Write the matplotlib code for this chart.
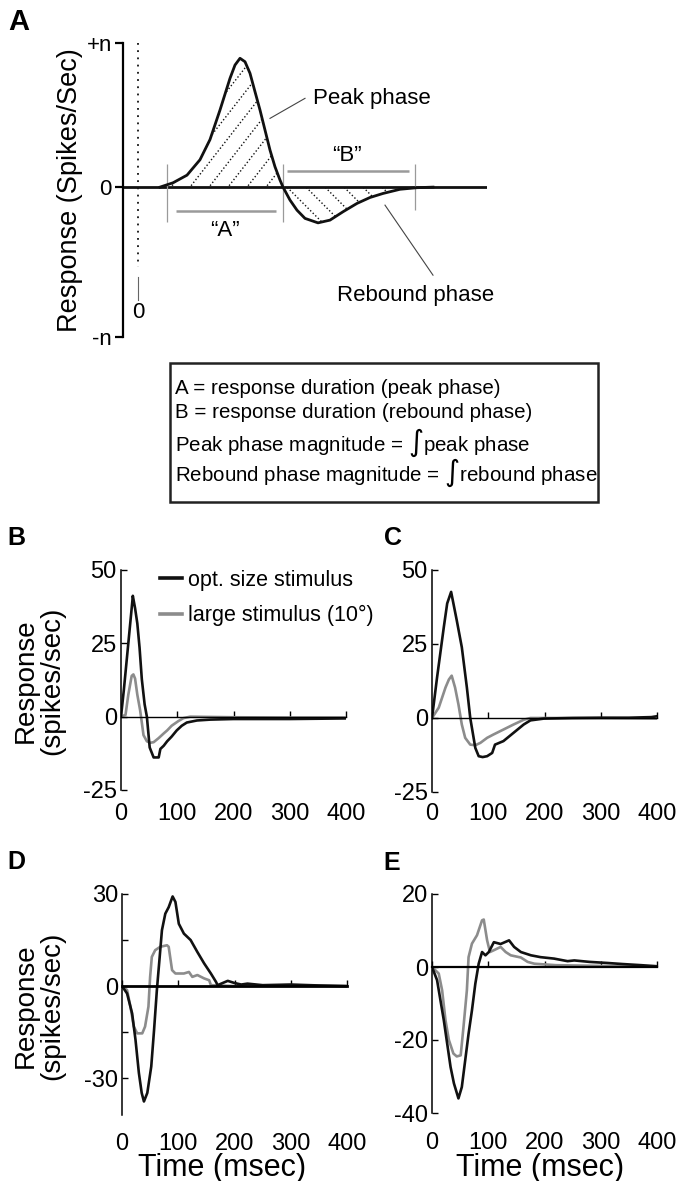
import numpy as np
import matplotlib
matplotlib.use('Agg')
import matplotlib.pyplot as plt
from matplotlib.patches import Rectangle

plt.rcParams['font.family'] = ['Liberation Sans', 'DejaVu Sans']

# ---- Panel A: schematic response (time relative to stimulus onset, normalised response)
a_t = [22, 35, 49, 62, 72, 82, 92, 97, 102, 107, 112, 117, 122, 127, 132, 137, 142, 145,
       152, 159, 167, 180, 192, 205, 219, 232, 245, 262, 279, 295]
a_v = [0, 0.03, 0.083, 0.19, 0.33, 0.535, 0.755, 0.847, 0.894, 0.87, 0.79, 0.662, 0.535,
       0.396, 0.257, 0.141, 0.049, 0, -0.09, -0.16, -0.217, -0.248, -0.229, -0.171, -0.113,
       -0.072, -0.044, -0.015, -0.004, 0]
a_ticklabels = ['-n', '0', '+n']

box_lines = ['A = response duration (peak phase)',
             'B = response duration (rebound phase)',
             r'Peak phase magnitude = $\int$peak phase',
             r'Rebound phase magnitude = $\int$rebound phase']

# ---- Panels B-E: mean responses (spikes/sec) vs time (msec)
b_blk_t = [0, 5, 10, 15, 20, 21, 25, 29, 33, 37, 42, 46, 51, 58, 67, 70, 76, 82, 90, 99, 108,
           117, 135, 159, 200, 300, 400]
b_blk_v = [0, 9, 19, 29, 39, 41.2, 37, 31.8, 23.5, 12.8, 4.2, 0, -10.5, -13.9, -13.9, -11.0,
           -9.9, -8.4, -6.8, -4.7, -3.1, -2.0, -1.3, -1.0, -0.8, -0.8, -0.6]
b_gry_t = [0, 8, 13, 19, 22, 25, 29, 34, 37, 40, 46, 52, 58, 67, 76, 82, 90, 102, 111, 123,
           200, 300, 400]
b_gry_v = [0, 0.6, 7.5, 13.9, 14.4, 13, 7.5, 2.2, -2, -6.3, -8.4, -8.9, -8.7, -7.3, -5.7,
           -4.7, -3.1, -1.5, -0.5, 0, -0.2, -0.3, -0.3]

c_blk_t = [0, 9, 21, 27, 34, 44, 53, 62, 68, 77, 83, 90, 98, 107, 112, 127, 145, 163, 175,
           199, 250, 300, 350, 390, 400]
c_blk_v = [0, 13.7, 30.7, 38.7, 42.6, 33, 23.9, 10.3, 0, -10.1, -12.9, -13.2, -12.9, -11.8,
           -9, -7.8, -5, -2.2, -0.8, -0.2, 0, 0.1, 0.1, 0.3, 0.6]
c_gry_t = [0, 12, 24, 30, 35, 41, 47, 53, 59, 68, 77, 86, 98, 109, 127, 145, 163, 175, 250,
           400]
c_gry_v = [0, 3.5, 10.3, 13, 14.3, 10.3, 4.6, -2.2, -6.7, -9, -9.2, -8.4, -6.7, -5.6, -3.9,
           -2.2, -0.6, 0, 0, -0.2]

d_blk_t = [0, 9, 18, 24, 30, 35, 39, 45, 52, 57, 62, 67, 71, 77, 83, 90, 95, 101, 110, 122,
           134, 146, 158, 167, 170, 188, 200, 212, 223, 250, 300, 350, 400]
d_blk_v = [0, -2.4, -8.9, -17.5, -28.3, -34.8, -37.6, -34.8, -26.2, -14.3, -1.3, 9.5, 18.2,
           23.6, 25.7, 29.2, 27.4, 20.3, 17.1, 15, 11.1, 7.4, 4.1, 1.4, 0.3, 1.7, 1.0, 0.5, 0.8,
           0.3, 0.5, 0.2, 0]
d_gry_t = [0, 9, 15, 21, 27, 36, 41, 47, 50, 53, 59, 68, 80, 83, 89, 95, 110, 119, 125, 134,
           146, 155, 158, 200, 300, 400]
d_gry_v = [0, -1.3, -6.7, -13.2, -15.4, -15.4, -13.2, -6.7, 3, 9.5, 11.7, 12.8, 13.3, 12.8,
           5.2, 4.1, 4.1, 4.6, 3, 3.6, 2.5, 1.9, 0.3, 0, 0.3, 0]

e_blk_t = [0, 9, 15, 21, 27, 33, 39, 47, 53, 59, 65, 71, 77, 83, 89, 95, 101, 110, 122, 137,
           146, 158, 176, 193, 217, 241, 253, 280, 312, 340, 372, 400]
e_blk_v = [0, -3.6, -9.1, -14.6, -21, -27.4, -31.9, -36, -32.9, -25.6, -18.3, -11.9, -4.6,
           0.9, 4.1, 3.2, 4.1, 6.8, 6.3, 7.3, 5.5, 4.1, 3.2, 2.7, 2.3, 1.6, 1.8, 1.4, 1.1, 0.8,
           0.5, 0.2]
e_gry_t = [0, 12, 18, 24, 30, 38, 44, 51, 56, 62, 65, 71, 80, 89, 92, 98, 103, 110, 122, 131,
           140, 158, 170, 182, 220, 300, 400]
e_gry_v = [0, -1.8, -6.4, -14.6, -20, -23.7, -24.5, -24.2, -16.4, -6.4, 2.7, 6.4, 8.7, 12.8,
           13, 7.3, 4.1, 4.6, 5.5, 4.1, 3.2, 2.6, 1.4, 0.9, 0.5, 0.3, 0.2]

time_ticks = [0, 100, 200, 300, 400]
series_labels = ['opt. size stimulus', 'large stimulus (10\u00b0)']

BLACK = '#111111'
GRAY = '#8c8c8c'
W, H = 680, 1181

fig = plt.figure(figsize=(W / 100, H / 100), dpi=100)
fig.patch.set_facecolor('white')


def px_rect(left, top, right, bottom):
    return [left / W, 1 - bottom / H, (right - left) / W, (bottom - top) / H]


def fx(x):
    return x / W


def fy(y):
    return 1 - y / H


# ---------------- Panel A ----------------
ax = fig.add_axes(px_rect(123, 43, 487, 337))
ax.set_xlim(-15, 349)
ax.set_ylim(-1.04, 1)
for s in ['top', 'right', 'bottom']:
    ax.spines[s].set_visible(False)
ax.spines['left'].set_linewidth(1.6)
ax.set_xticks([])
ax.set_yticks([-1.04, 0, 1], a_ticklabels)
ax.tick_params(axis='y', direction='out', length=6, width=1.6, labelsize=16, pad=2)

ax.axhline(0, color=BLACK, lw=2.0)
ax.plot(a_t, a_v, color=BLACK, lw=2.0, zorder=4)

# dotted hatching clipped to the two phases
a_t_arr = np.array(a_t)
a_v_arr = np.array(a_v)
pk = a_t_arr <= 145
rb = a_t_arr >= 145
peak_fill = ax.fill_between(a_t_arr[pk], a_v_arr[pk], 0, facecolor='none', edgecolor='none')
reb_fill = ax.fill_between(a_t_arr[rb], a_v_arr[rb], 0, facecolor='none', edgecolor='none')
slope_pk = np.tan(np.radians(52)) / 144.0
for c in np.arange(52 - 19 * 6, 150, 19):
    ln, = ax.plot([c - 10, c + 120], [-10 * slope_pk, 120 * slope_pk], ls=(0, (1, 1.6)),
                  color=BLACK, lw=1.0)
    ln.set_clip_path(peak_fill.get_paths()[0], ax.transData)
slope_rb = 1 / 144.0
for c in np.arange(149, 300, 19):
    ln, = ax.plot([c - 10, c + 120], [10 * slope_rb, -120 * slope_rb], ls=(0, (1, 1.6)),
                  color=BLACK, lw=1.0)
    ln.set_clip_path(reb_fill.get_paths()[0], ax.transData)

# stimulus onset marker
ax.plot([0, 0], [1, -0.555], ls=(0, (1, 3)), color=BLACK, lw=1.3)
ax.plot([0, 0], [-0.625, -0.785], color='#666666', lw=0.8)
ax.text(0, -0.87, '0', ha='center', va='center', fontsize=16)

# duration markers
ax.vlines([29, 145], -0.243, 0.16, color='#9a9a9a', lw=0.9)
ax.vlines([277], -0.16, 0.16, color='#9a9a9a', lw=0.9)
ax.hlines(-0.165, 38, 138, color='#9a9a9a', lw=1.8)
ax.hlines(0.113, 149, 271, color='#9a9a9a', lw=1.8)
ax.text(87, -0.30, '\u201cA\u201d', ha='center', va='center', fontsize=16)
ax.text(209, 0.222, '\u201cB\u201d', ha='center', va='center', fontsize=16)

ax.plot([132, 167], [0.477, 0.616], color='#444444', lw=0.8)
ax.text(175, 0.616, 'Peak phase', ha='left', va='center', fontsize=16)
ax.plot([247, 295], [-0.125, -0.611], color='#444444', lw=0.8)
ax.text(199, -0.75, 'Rebound phase', ha='left', va='center', fontsize=16)

fig.text(fx(70), fy(190), 'Response (Spikes/Sec)', rotation=90, ha='center', va='center',
         fontsize=19.5)

# definitions box
fig.add_artist(Rectangle((fx(170), fy(502)), 428 / W, 139 / H, transform=fig.transFigure,
                         facecolor='white', edgecolor='#222222', lw=1.8))
for txt, yc in zip(box_lines, [389, 412, 443, 473]):
    fig.text(fx(175), fy(yc), txt, ha='left', va='center', fontsize=14.8)


# ---------------- Panels B-E ----------------
def panel(rect, blk_t, blk_v, gry_t, gry_v, ylim, yticks, ylabels, zero_lw, xpad):
    ax = fig.add_axes(rect)
    gl, = ax.plot(gry_t, gry_v, color=GRAY, lw=1.9)
    bl, = ax.plot(blk_t, blk_v, color=BLACK, lw=1.9)
    ax.set_xlim(0, 400)
    ax.set_ylim(*ylim)
    ax.spines['top'].set_visible(False)
    ax.spines['right'].set_visible(False)
    ax.spines['bottom'].set_position(('data', 0))
    ax.spines['bottom'].set_linewidth(zero_lw)
    ax.spines['left'].set_linewidth(1.1)
    ax.set_xticks(time_ticks)
    ax.tick_params(axis='x', direction='in', length=4, width=1.0, labelbottom=False)
    ax.set_yticks(yticks, ylabels)
    ax.tick_params(axis='y', direction='in', length=4, width=1.0, labelsize=17, pad=3)
    sec = ax.secondary_xaxis('bottom')
    sec.spines['bottom'].set_visible(False)
    sec.set_xticks(time_ticks)
    sec.tick_params(length=0, pad=xpad, labelsize=17)
    return ax, bl, gl


axB, bl, gl = panel(px_rect(121, 570, 346, 790), b_blk_t, b_blk_v, b_gry_t, b_gry_v,
                    (-25, 50), [-25, 0, 25, 50], ['-25', '0', '25', '50'], 1.0, 9)
leg = axB.legend([bl, gl], series_labels, loc='upper left', bbox_to_anchor=(0.175, 1.0),
                 frameon=False, fontsize=15.5, handlelength=1.0, handletextpad=0.3,
                 labelspacing=0.65, borderpad=0, borderaxespad=0)
for ln in leg.get_lines():
    ln.set_linewidth(2.6)

panel(px_rect(432, 570, 657, 792), c_blk_t, c_blk_v, c_gry_t, c_gry_v,
      (-25, 50), [-25, 0, 25, 50], ['-25', '0', '25', '50'], 1.0, 8)
panel(px_rect(122, 894, 347, 1115), d_blk_t, d_blk_v, d_gry_t, d_gry_v,
      (-42, 30), [-30, -15, 0, 15, 30], ['-30', '', '0', '', '30'], 2.0, 13)
panel(px_rect(432, 894, 657, 1113), e_blk_t, e_blk_v, e_gry_t, e_gry_v,
      (-40, 20), [-40, -20, 0, 20], ['-40', '-20', '0', '20'], 1.6, 14)

for yc in [681, 1006]:
    fig.text(fx(39), fy(yc), 'Response\n(spikes/sec)', rotation=90, ha='center', va='center',
             fontsize=20, linespacing=1.0)
for xc in [222, 540]:
    fig.text(fx(xc), fy(1168), 'Time (msec)', ha='center', va='center', fontsize=22)

for lab, x, y, size in [('A', 8, 8, 21), ('B', 7, 526, 18), ('C', 384, 526, 18),
                        ('D', 7, 850, 18), ('E', 383, 851, 18)]:
    fig.text(fx(x), fy(y), lab, ha='left', va='top', fontsize=size, fontweight='bold')

fig.savefig('out.png', dpi=100, facecolor='white')
